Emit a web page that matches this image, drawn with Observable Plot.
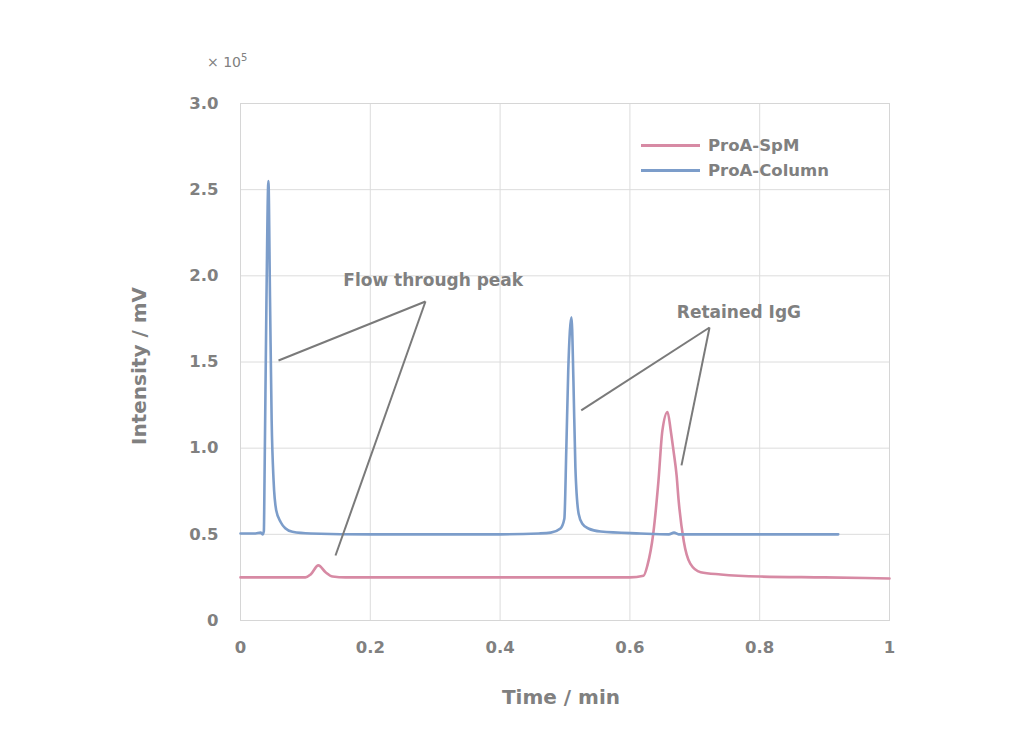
<!DOCTYPE html>
<html>
<head>
<meta charset="utf-8">
<script src="https://cdn.jsdelivr.net/npm/d3@7"></script>
<script src="https://cdn.jsdelivr.net/npm/@observablehq/plot@0.6"></script>
<style>
  html, body { margin: 0; padding: 0; background: #fff; }
  #wrap { position: relative; width: 1024px; height: 740px; font-family: "DejaVu Sans", sans-serif; color: #808080; font-weight: bold; }
  #legend { position: absolute; left: 641px; top: 133px; font-size: 16.5px; line-height: 25px; }
  #legend .row { display: flex; align-items: center; }
  #legend .sw { width: 59px; height: 3px; margin-right: 8px; }
  #mult { position: absolute; left: 207px; top: 52px; font-size: 14px; font-weight: normal; color: #808080; }
  #mult sup { font-size: 10px; }
</style>
</head>
<body>
<div id="wrap">
  <div id="chart"></div>
  <div id="mult">× 10<sup>5</sup></div>
  <div id="legend"></div>
</div>
<script>
// Intensity values in units of 10^5 mV, time in min
const seriesNames = ["ProA-SpM", "ProA-Column"];
const seriesColors = ["#d78aa4", "#7c9dca"];

const columnTime = [0, 0.023, 0.031, 0.034, 0.036, 0.037, 0.040, 0.043, 0.0455, 0.048, 0.051, 0.055, 0.062, 0.069, 0.080, 0.108, 0.20, 0.30, 0.40, 0.46, 0.478, 0.493, 0.499, 0.502, 0.505, 0.510, 0.513, 0.516, 0.521, 0.527, 0.536, 0.555, 0.616, 0.66, 0.668, 0.675, 0.709, 0.80, 0.921];
const columnValue = [0.505, 0.505, 0.51, 0.50, 0.52, 0.81, 1.86, 2.55, 1.86, 1.16, 0.81, 0.64, 0.57, 0.535, 0.515, 0.505, 0.50, 0.50, 0.50, 0.505, 0.51, 0.534, 0.59, 0.99, 1.45, 1.76, 1.39, 0.89, 0.62, 0.56, 0.534, 0.516, 0.505, 0.50, 0.51, 0.50, 0.50, 0.50, 0.50];

const spmTime = [0, 0.10, 0.108, 0.12, 0.131, 0.142, 0.162, 0.30, 0.45, 0.60, 0.621, 0.627, 0.636, 0.644, 0.650, 0.658, 0.663, 0.667, 0.672, 0.675, 0.683, 0.693, 0.709, 0.740, 0.801, 0.90, 1.0];
const spmValue = [0.25, 0.25, 0.267, 0.32, 0.28, 0.255, 0.25, 0.25, 0.25, 0.25, 0.26, 0.32, 0.505, 0.81, 1.10, 1.21, 1.10, 0.99, 0.84, 0.70, 0.46, 0.33, 0.28, 0.267, 0.255, 0.25, 0.244];

const xTicks = [0, 0.2, 0.4, 0.6, 0.8, 1];
const yTicks = [0, 0.5, 1.0, 1.5, 2.0, 2.5, 3.0];

// Annotations: label, apex (time, value), two pointer ends
const annLabels = ["Flow through peak", "Retained IgG"];
const annApexT = [0.285, 0.7227];
const annApexV = [1.851, 1.700];
const annEnd1T = [0.0586, 0.525];
const annEnd1V = [1.509, 1.219];
const annEnd2T = [0.1464, 0.6795];
const annEnd2V = [0.377, 0.90];
const annLabelT = [0.297, 0.768];
const annLabelV = [1.975, 1.785];

const columnData = columnTime.map((t, i) => ({t, v: columnValue[i]}));
const spmData = spmTime.map((t, i) => ({t, v: spmValue[i]}));
const links = [];
annLabels.forEach((l, i) => {
  links.push({x1: annApexT[i], y1: annApexV[i], x2: annEnd1T[i], y2: annEnd1V[i]});
  links.push({x1: annApexT[i], y1: annApexV[i], x2: annEnd2T[i], y2: annEnd2V[i]});
});
const labels = annLabels.map((l, i) => ({l, t: annLabelT[i], v: annLabelV[i]}));

const gray = "#808080";
const font = "DejaVu Sans, sans-serif";

const chart = Plot.plot({
  width: 1024,
  height: 740,
  marginLeft: 240,
  marginRight: 135,
  marginTop: 103,
  marginBottom: 120,
  style: {fontFamily: font, fontWeight: "bold", color: gray, background: "white"},
  x: {domain: [0, 1]},
  y: {domain: [0, 3]},
  marks: [
    Plot.gridY(yTicks, {stroke: "#dcdcdc", strokeOpacity: 1}),
    Plot.gridX(xTicks, {stroke: "#dcdcdc", strokeOpacity: 1}),
    Plot.frame({stroke: "#d6d6d6"}),
    Plot.axisY({ticks: yTicks, tickSize: 0, tickPadding: 22, label: null, fontSize: 16.5, fill: gray,
      tickFormat: d => d === 0 ? "0" : d.toFixed(1)}),
    Plot.axisX({ticks: xTicks, tickSize: 0, tickPadding: 21, label: null, fontSize: 16.5, fill: gray,
      tickFormat: d => (d === 0 || d === 1) ? String(d) : d.toFixed(1)}),
    Plot.text(["Intensity / mV"], {frameAnchor: "left", textAnchor: "middle", rotate: -90, dx: -101, dy: 4, fontSize: 20, fill: gray}),
    Plot.text(["Time / min"], {frameAnchor: "bottom", dy: 83, dx: -4, fontSize: 20, fill: gray}),
    Plot.line(spmData, {x: "t", y: "v", stroke: seriesColors[0], strokeWidth: 2.6, curve: "monotone-x"}),
    Plot.line(columnData, {x: "t", y: "v", stroke: seriesColors[1], strokeWidth: 2.6, curve: "monotone-x"}),
    Plot.link(links, {x1: "x1", y1: "y1", x2: "x2", y2: "y2", stroke: "#7a7a7a", strokeWidth: 2}),
    Plot.text(labels, {x: "t", y: "v", text: "l", fontSize: 17, fill: gray})
  ]
});
document.getElementById("chart").appendChild(chart);

const legend = document.getElementById("legend");
seriesNames.forEach((n, i) => {
  const row = document.createElement("div");
  row.className = "row";
  row.innerHTML = `<div class="sw" style="background:${seriesColors[i]}"></div><span>${n}</span>`;
  legend.appendChild(row);
});
</script>
</body>
</html>
